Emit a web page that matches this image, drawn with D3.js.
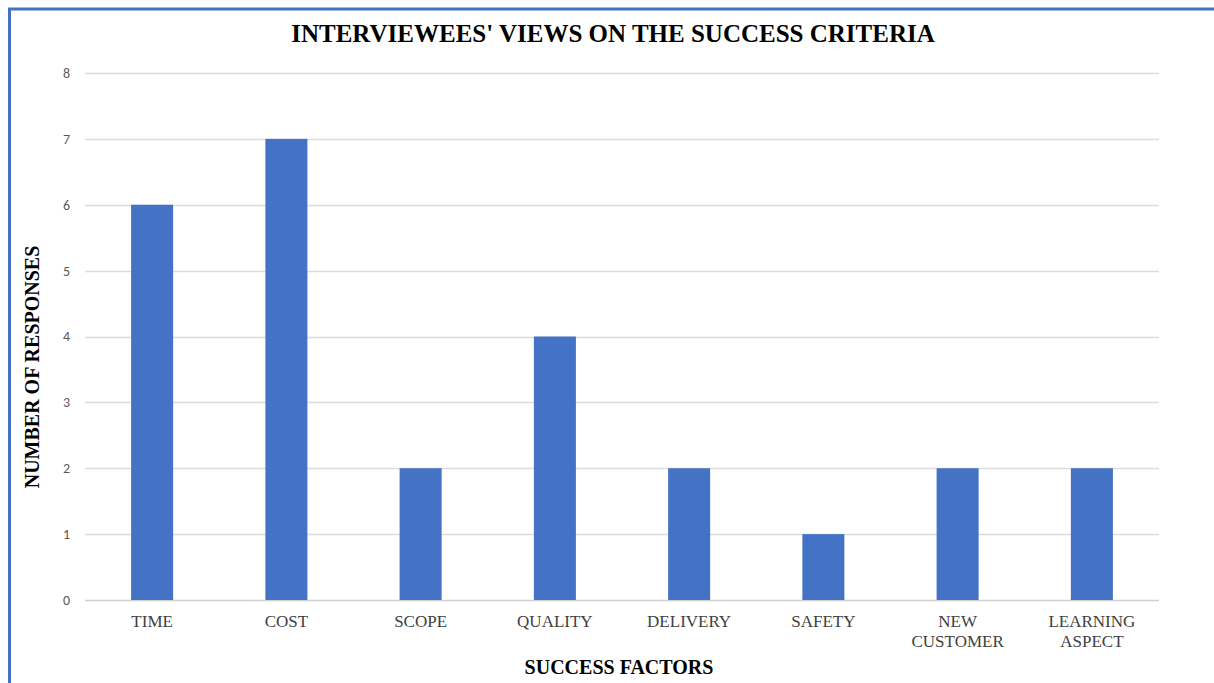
<!DOCTYPE html>
<html>
<head>
<meta charset="utf-8">
<script src="https://cdn.jsdelivr.net/npm/d3@7"></script>
<style>
body{margin:0;background:#fff;}
svg{display:block;}
</style>
</head>
<body>
<svg id="chart" width="1214" height="683"></svg>
<script>
var categories = [["TIME"],["COST"],["SCOPE"],["QUALITY"],["DELIVERY"],["SAFETY"],["NEW","CUSTOMER"],["LEARNING","ASPECT"]];
var responses = [6,7,2,4,2,1,2,2];
var yTicks = [0,1,2,3,4,5,6,7,8];

var svg = d3.select("#chart");
var W = 1214, H = 683;
var plotLeft = 85, plotRight = 1159, plotTop = 73, plotBottom = 600;

// frame
svg.append("path")
	.attr("d","M9.5,"+H+" V9 H"+W)
	.attr("fill","none")
	.attr("stroke","#4472c4")
	.attr("stroke-width",3);

var keys = categories.map(function(c){ return c.join(" "); });
var x = d3.scaleBand().domain(keys).range([plotLeft,plotRight]).paddingInner(0.687).paddingOuter(0.3435);
var y = d3.scaleLinear().domain([0,8]).range([plotBottom,plotTop]);

// gridlines
svg.append("g").selectAll("line").data(yTicks).enter().append("line")
	.attr("x1",plotLeft).attr("x2",plotRight)
	.attr("y1",function(d){ return Math.round(y(d))+0.5; })
	.attr("y2",function(d){ return Math.round(y(d))+0.5; })
	.attr("stroke",function(d){ return d==0 ? "#d0d0d0" : "#dcdcdc"; })
	.attr("stroke-width",1.3);

var yAxis = svg.append("g").attr("transform","translate("+plotLeft+",0)")
	.call(d3.axisLeft(y).tickValues(yTicks).tickSize(0).tickPadding(15));
yAxis.select(".domain").remove();
yAxis.selectAll("text")
	.attr("font-family","Carlito, 'Liberation Sans', Arial, sans-serif")
	.attr("font-size","14px")
	.attr("fill","#595959");

// bars
svg.append("g").selectAll("rect").data(responses).enter().append("rect")
	.attr("x",function(d,i){ return x(keys[i]); })
	.attr("width",x.bandwidth())
	.attr("y",function(d){ return y(d); })
	.attr("height",function(d){ return y(0)-y(d); })
	.attr("fill","#4472c4");

// category labels
var xl = svg.append("g").selectAll("text").data(categories).enter().append("text")
	.attr("x",function(d,i){ return x(keys[i])+x.bandwidth()/2; })
	.attr("y",627)
	.attr("text-anchor","middle")
	.attr("font-family","'Liberation Serif', 'Times New Roman', serif")
	.attr("font-size","17px")
	.attr("fill","#404040");
xl.selectAll("tspan").data(function(d){ return d; }).enter().append("tspan")
	.attr("x",function(){ return d3.select(this.parentNode).attr("x"); })
	.attr("dy",function(d,i){ return i==0 ? 0 : 20; })
	.text(function(d){ return d; });

// titles
svg.append("text")
	.attr("x",613).attr("y",42)
	.attr("text-anchor","middle")
	.attr("font-family","'Liberation Serif', 'Times New Roman', serif")
	.attr("font-weight","bold")
	.attr("font-size","25px")
	.attr("fill","#000")
	.text("INTERVIEWEES' VIEWS ON THE SUCCESS CRITERIA");

svg.append("text")
	.attr("x",619).attr("y",674)
	.attr("text-anchor","middle")
	.attr("font-family","'Liberation Serif', 'Times New Roman', serif")
	.attr("font-weight","bold")
	.attr("font-size","20px")
	.attr("fill","#000")
	.text("SUCCESS FACTORS");

svg.append("text")
	.attr("transform","translate(39,367) rotate(-90)")
	.attr("text-anchor","middle")
	.attr("font-family","'Liberation Serif', 'Times New Roman', serif")
	.attr("font-weight","bold")
	.attr("font-size","20px")
	.attr("fill","#000")
	.text("NUMBER OF RESPONSES");
</script>
</body>
</html>
